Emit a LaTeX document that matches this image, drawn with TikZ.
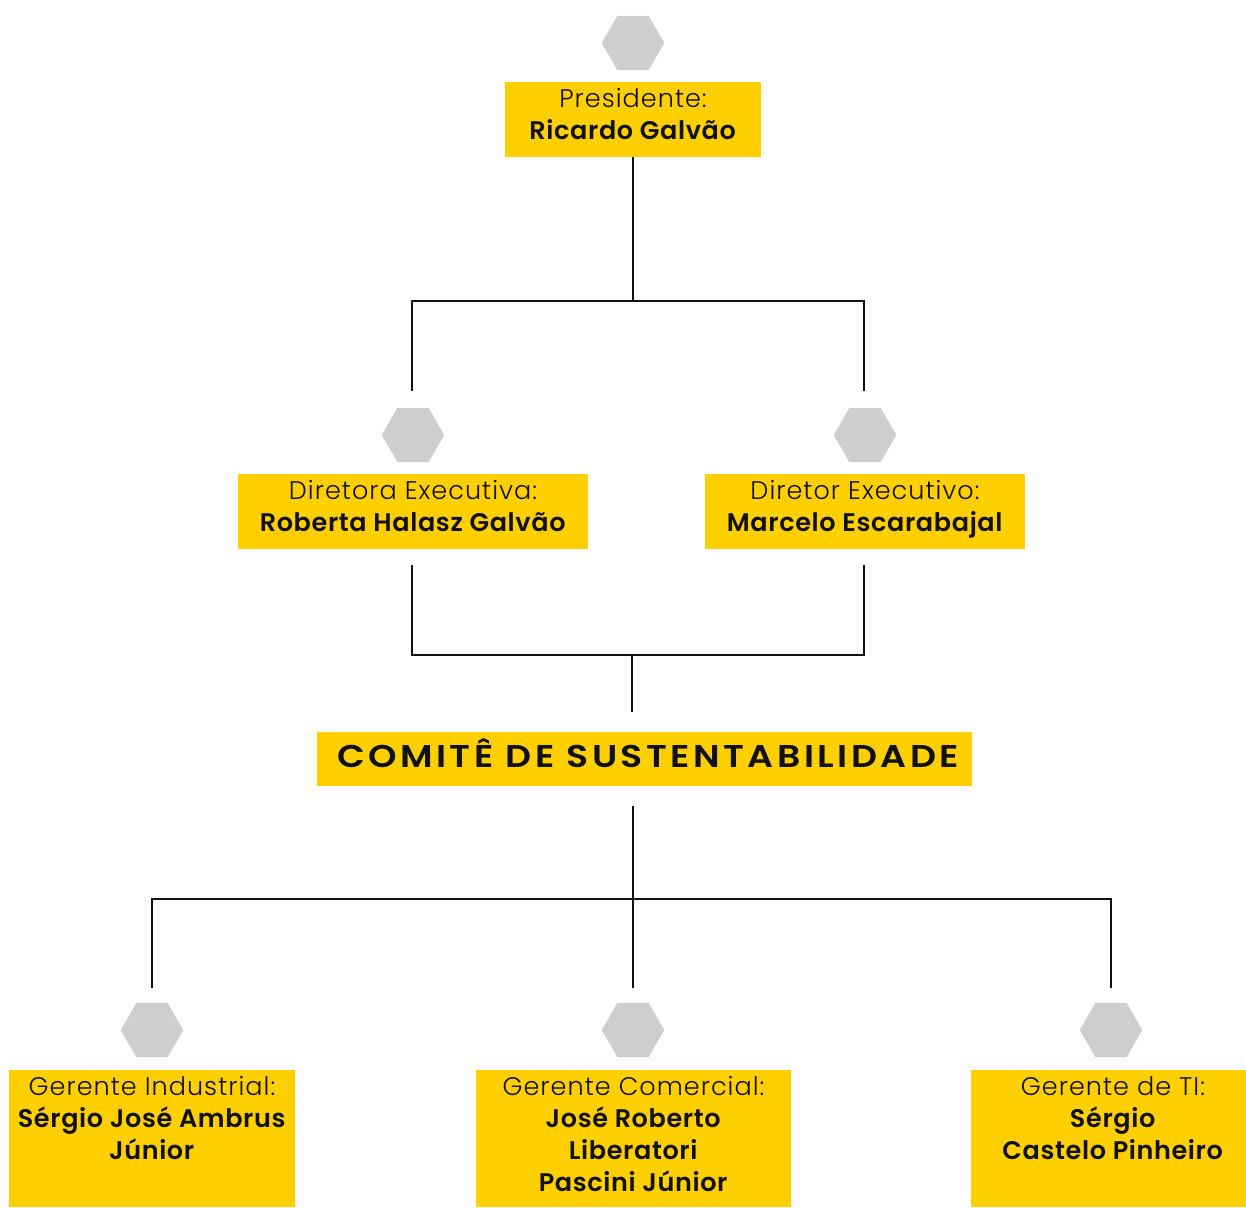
\documentclass[tikz,border=0pt]{standalone}
\usepackage{fontspec}
\setmainfont{Poppins}[BoldFont={Poppins SemiBold}, BoldFeatures={LetterSpace=2.5}]
\newfontfamily\lightf{Poppins Light}[LetterSpace=4]
\newfontfamily\comf{Poppins SemiBold}[FakeStretch=1.15, LetterSpace=11]
\usetikzlibrary{shapes.geometric}
\definecolor{gold}{HTML}{FFCF00}
\definecolor{hexgray}{HTML}{CFCECD}
\definecolor{ink}{HTML}{111111}
\tikzset{
  ybox/.style={fill=gold, draw=none, inner sep=0pt, outer sep=0pt, anchor=north west},
  hexa/.style={regular polygon, regular polygon sides=6, shape border rotate=0,
    minimum size=62.5pt, inner sep=0pt, fill=hexgray, draw=none},
  lbl/.style={align=center, anchor=north, inner sep=0pt, text=ink,
    font=\fontsize{25.5}{32}\selectfont},
  conn/.style={line width=1.2pt, draw=ink}
}
\begin{document}
\begin{tikzpicture}[x=1pt,y=-1pt]
\useasboundingbox (0,0) rectangle (1246,1207);
% hexagons
\node[hexa] (h0) at (633,43) {};
\node[hexa] (h1) at (413,435) {};
\node[hexa] (h2) at (865,435) {};
\node[hexa] (h3) at (152,1030) {};
\node[hexa] (h4) at (633,1030) {};
\node[hexa] (h5) at (1111,1030) {};
% boxes
\node[ybox, minimum width=256pt, minimum height=75pt] (presbox) at (505,82) {};
\node[ybox, minimum width=350pt, minimum height=75pt] (dirabox) at (238,474) {};
\node[ybox, minimum width=320pt, minimum height=75pt] (dirobox) at (705,474) {};
\node[ybox, minimum width=655pt, minimum height=54pt] (combox) at (317,732) {};
\node[ybox, minimum width=286pt, minimum height=137pt] (indbox) at (9,1070) {};
\node[ybox, minimum width=315pt, minimum height=137pt] (combbox) at (476,1070) {};
\node[ybox, minimum width=275pt, minimum height=137pt] (tibox) at (971,1070) {};
% texts
\node[lbl] (prestxt) at (633,88) {{\lightf Presidente:}\\\textbf{Ricardo Galvão}};
\node[lbl] (diratxt) at (413,480) {{\lightf Diretora Executiva:}\\\textbf{Roberta Halasz Galvão}};
\node[lbl] (dirotxt) at (865,480) {{\lightf Diretor Executivo:}\\\textbf{Marcelo Escarabajal}};
\node[anchor=base, inner sep=0pt, text=ink, font=\comf\fontsize{31.5}{36}\selectfont] (comtxt) at (648,767) {COMITÊ DE SUSTENTABILIDADE};
\node[lbl] (indtxt) at (152,1076) {{\lightf Gerente Industrial:}\\\textbf{Sérgio José Ambrus}\\\textbf{Júnior}};
\node[lbl] (combtxt) at (633.5,1076) {{\lightf Gerente Comercial:}\\\textbf{José Roberto}\\\textbf{Liberatori}\\\textbf{Pascini Júnior}};
\node[lbl] (titxt) at (1113,1076) {{\lightf Gerente de TI:}\\\textbf{Sérgio}\\\textbf{Castelo Pinheiro}};
% connector points
\coordinate (j1) at (633,301);
\coordinate (dl) at (412,391);
\coordinate (dr) at (864,391);
\coordinate (dls) at (412,565);
\coordinate (drs) at (864,565);
\coordinate (j2) at (632,655);
\coordinate (cin) at (632,712);
\coordinate (cout) at (633,806);
\coordinate (j3) at (633,899);
\coordinate (gl) at (152,988);
\coordinate (gm) at (633,988);
\coordinate (gr) at (1111,988);
% connectors
\draw[conn] (presbox.south) -- (j1);
\draw[conn] (dl) |- (j1) -| (dr);
\draw[conn] (dls) |- (j2) -| (drs);
\draw[conn] (j2) -- (cin);
\draw[conn] (cout) -- (gm);
\draw[conn] (gl) |- (j3) -| (gr);
\end{tikzpicture}
\end{document}
